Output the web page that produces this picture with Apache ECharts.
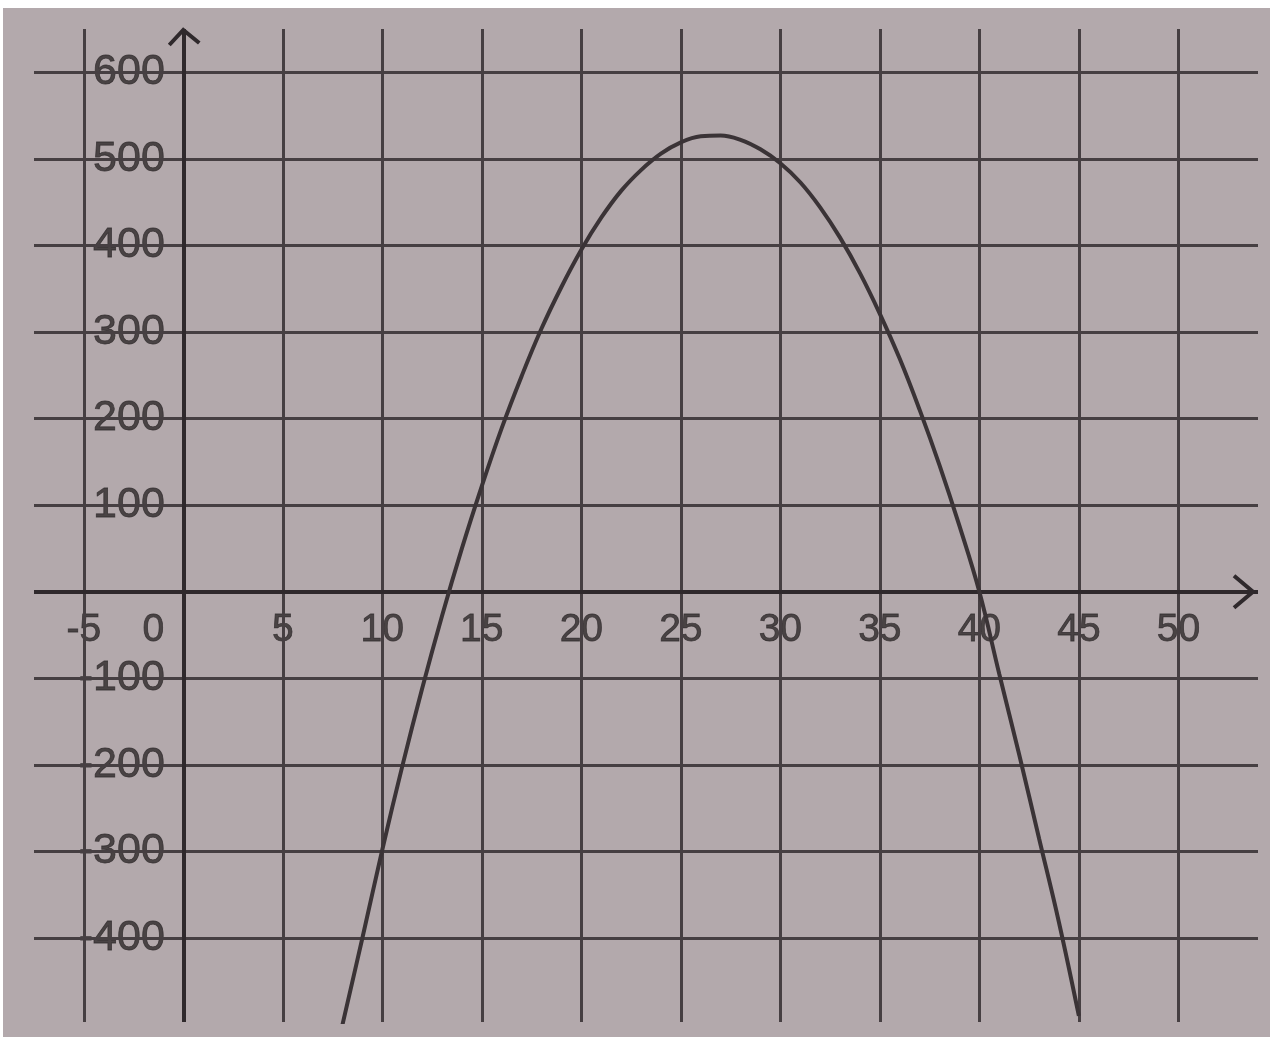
<!DOCTYPE html>
<html><head><meta charset="utf-8">
<script src="https://cdn.jsdelivr.net/npm/echarts@6/dist/echarts.min.js"></script>
<style>
html,body{margin:0;padding:0;background:#fff;width:1272px;height:1037px;overflow:hidden}
#chart{position:absolute;left:3px;top:8px;width:1267px;height:1029px;background:#b3a9ac}
</style></head><body><div id="chart"></div>
<script>
// ---- data ----
const xTicks = [-5, 0, 5, 10, 15, 20, 25, 30, 35, 40, 45, 50];
const xTickLabels = ['-5', '0', '5', '10', '15', '20', '25', '30', '35', '40', '45', '50'];
const yTicks = [-400, -300, -200, -100, 100, 200, 300, 400, 500, 600];
const yTickLabels = ['-400', '-300', '-200', '-100', '100', '200', '300', '400', '500', '600'];
const curveX = [8, 9, 10, 11, 12, 13, 14, 15, 16, 17, 18, 19, 20, 21, 22, 23, 24, 25, 26,
                27, 28, 29, 30, 31, 32, 33, 34, 35, 36, 37, 38, 39, 40, 41, 42, 43, 44, 45];
const curveY = [-500, -400, -298, -202, -112, -28, 50, 122, 189, 249, 304, 352, 395, 432, 463, 487, 506, 519, 526,
                527, 522, 511, 495, 473, 444, 409, 368, 321, 269, 210, 146, 76, 0, -95, -188, -285, -382, -490];
const xRange = [-7.5, 54];
const yRange = [-497, 650];

// ---- styles ----
const gridColor = '#463f42';
const axisColor = '#2f292c';
const textColor = '#2e292b';
const FONT = 'Liberation Sans, Arial, sans-serif';

const chart = echarts.init(document.getElementById('chart'), null, {renderer: 'canvas'});

const xLabelData = xTicks.map((v, i) => ({
  value: [v === 0 ? v - 1.5 : v, -45],
  label: {formatter: xTickLabels[i]}
}));
const yLabelData = yTicks.map((v, i) => ({
  value: [-0.9, v],
  label: {formatter: yTickLabels[i]}
}));

const lineMark = (data, width, color) => ({
  silent: true, animation: false, symbol: 'none',
  label: {show: false}, emphasis: {disabled: true},
  lineStyle: {type: 'solid', width: width, color: color, opacity: 1},
  data: data
});

chart.setOption({
  animation: false,
  backgroundColor: 'transparent',
  grid: {left: 31, right: 12, top: 21, bottom: 15, containLabel: false},
  xAxis: {type: 'value', min: xRange[0], max: xRange[1], show: false},
  yAxis: {type: 'value', min: yRange[0], max: yRange[1], show: false},
  series: [
    {
      type: 'line', data: [], z: 1, silent: true,
      markLine: lineMark(
        xTicks.filter(v => v !== 0).map(v => ({xAxis: v}))
          .concat(yTicks.map(v => ({yAxis: v}))), 3, gridColor)
    },
    {
      type: 'line', data: [], z: 2, silent: true,
      markLine: lineMark([{xAxis: 0}, {yAxis: 0}], 4, axisColor)
    },
    {
      type: 'line', z: 5, silent: true, smooth: 0.4, showSymbol: false,
      lineStyle: {width: 4, color: '#3a3336'},
      data: curveX.map((x, i) => [x, curveY[i]])
    },
    {
      type: 'scatter', z: 4, silent: true, symbolSize: 1,
      itemStyle: {color: 'rgba(0,0,0,0)'},
      label: {show: true, position: 'inside', color: textColor, fontFamily: FONT, fontSize: 39,
              textBorderColor: textColor, textBorderWidth: 0.8},
      data: xLabelData
    },
    {
      type: 'scatter', z: 4, silent: true, symbolSize: 1,
      itemStyle: {color: 'rgba(0,0,0,0)'},
      label: {show: true, position: 'left', distance: 0, color: textColor, fontFamily: FONT, fontSize: 43,
              textBorderColor: textColor, textBorderWidth: 0.8},
      data: yLabelData
    }
  ]
});

const xTip = chart.convertToPixel({gridIndex: 0}, [xRange[1], 0]);
const yTip = chart.convertToPixel({gridIndex: 0}, [0, yRange[1]]);
const xt = [xTip[0] - 5, xTip[1]];
const yt = [yTip[0], yTip[1] + 1];
chart.setOption({
  graphic: [
    {type: 'polyline', z: 10, silent: true,
     shape: {points: [[xt[0] - 19, xt[1] - 16], [xt[0], xt[1]], [xt[0] - 19, xt[1] + 16]]},
     style: {stroke: axisColor, lineWidth: 4, fill: null}},
    {type: 'polyline', z: 10, silent: true,
     shape: {points: [[yt[0] - 14, yt[1] + 15], [yt[0], yt[1]], [yt[0] + 16, yt[1] + 13]]},
     style: {stroke: axisColor, lineWidth: 4, fill: null}}
  ]
});
</script></body></html>
